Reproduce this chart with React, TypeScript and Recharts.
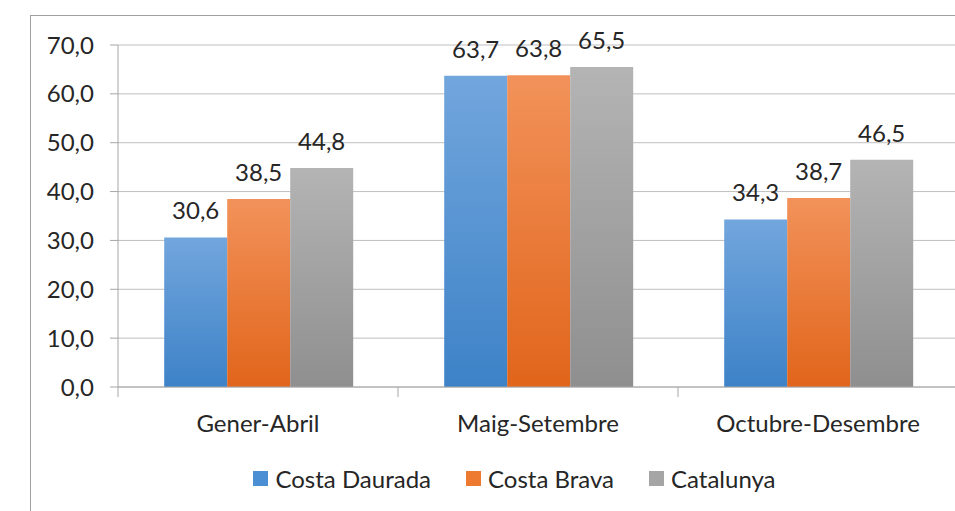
import { BarChart, Bar, XAxis, YAxis, CartesianGrid, LabelList, usePlotArea } from 'recharts';

const categories = ['Gener-Abril', 'Maig-Setembre', 'Octubre-Desembre'];
const costaDaurada = [30.6, 63.7, 34.3];
const costaBrava = [38.5, 63.8, 38.7];
const catalunya = [44.8, 65.5, 46.5];
const yTicks = [0, 10, 20, 30, 40, 50, 60, 70];

const SERIES = [
    { key: 'daurada', name: 'Costa Daurada', top: '#72a6dd', bottom: '#3d82c7', swatch: '#4a8fd4' },
    { key: 'brava', name: 'Costa Brava', top: '#f2925a', bottom: '#e1651b', swatch: '#ee7a32' },
    { key: 'catalunya', name: 'Catalunya', top: '#b4b4b4', bottom: '#8f8f8f', swatch: '#a5a5a5' },
];

const data = categories.map((c, i) => ({
    name: c,
    daurada: costaDaurada[i],
    brava: costaBrava[i],
    catalunya: catalunya[i],
}));

const FONT = 'Lato, "Open Sans", sans-serif';
const FS = 24;
const TEXT = '#262626';
const fmt = (v: any) => Number(v).toFixed(1).replace('.', ',');

// tick marks between categories, Excel style
function CategoryTicks() {
    const area = usePlotArea();
    if (!area) return null;
    const step = area.width / categories.length;
    const bottom = area.y + area.height;
    return (
        <g>
            {Array.from({ length: categories.length + 1 }, (_, i) => (
                <line key={i} x1={area.x + i * step} x2={area.x + i * step} y1={bottom} y2={bottom + 10} stroke="#a6a6a6" />
            ))}
        </g>
    );
}

export default function App() {
    return (
        <div style={{ position: 'absolute', left: 0, top: 0, width: 955, height: 511, overflow: 'hidden', background: '#fff' }}>
            <div style={{ position: 'absolute', left: 30, top: 15, width: 1000, height: 600, borderLeft: '1px solid #a0a0a0', borderTop: '1px solid #a0a0a0' }} />
            <BarChart
                width={960}
                height={511}
                data={data}
                margin={{ top: 45, right: 2, left: 0, bottom: 44 }}
                barCategoryGap="16.5%"
                barGap={0}
                style={{ position: 'absolute', left: 0, top: 0 }}
            >
                <defs>
                    {SERIES.map(s => (
                        <linearGradient key={s.key} id={`g-${s.key}`} x1="0" y1="0" x2="0" y2="1">
                            <stop offset="0%" stopColor={s.top} />
                            <stop offset="100%" stopColor={s.bottom} />
                        </linearGradient>
                    ))}
                </defs>
                <CartesianGrid vertical={false} stroke="#bfbfbf" />
                <XAxis
                    dataKey="name"
                    tickLine={false}
                    axisLine={{ stroke: '#a6a6a6' }}
                    tickSize={0}
                    tickMargin={28}
                    tick={{ fill: TEXT, fontSize: FS, fontFamily: FONT }}
                    height={80}
                />
                <YAxis
                    domain={[0, 70]}
                    ticks={yTicks}
                    width={118}
                    tickFormatter={fmt}
                    tickSize={8}
                    tickMargin={16}
                    tickLine={{ stroke: '#a6a6a6' }}
                    axisLine={{ stroke: '#a6a6a6' }}
                    tick={{ fill: TEXT, fontSize: FS, fontFamily: FONT }}
                />
                {SERIES.map(s => (
                    <Bar key={s.key} dataKey={s.key} name={s.name} fill={`url(#g-${s.key})`} isAnimationActive={false}>
                        <LabelList dataKey={s.key} position="top" offset={18} formatter={fmt} fill={TEXT} fontSize={FS} fontFamily={FONT} />
                    </Bar>
                ))}
                <CategoryTicks />
            </BarChart>
            <div style={{ position: 'absolute', left: 0, top: 464, width: 1029, display: 'flex', justifyContent: 'center', gap: 35, fontFamily: FONT, fontSize: FS, color: TEXT }}>
                {SERIES.map(s => (
                    <div key={s.key} style={{ display: 'flex', alignItems: 'center' }}>
                        <span style={{ width: 15, height: 15, background: s.swatch, display: 'inline-block', marginRight: 7 }} />
                        <span>{s.name}</span>
                    </div>
                ))}
            </div>
        </div>
    );
}
